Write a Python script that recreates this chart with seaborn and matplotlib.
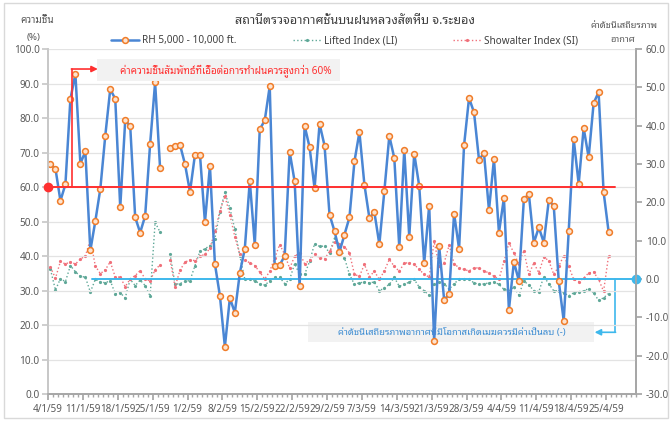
import numpy as np
import pandas as pd
import seaborn as sns
import matplotlib.pyplot as plt
from matplotlib import font_manager
from matplotlib.ft2font import FT2Font
from matplotlib.lines import Line2D
from matplotlib.patches import Rectangle
import matplotlib.patheffects as pe

nan = np.nan

# x labels (weekly), Thai Buddhist year 2559
day_labels = ["4/1/59", "11/1/59", "18/1/59", "25/1/59", "1/2/59", "8/2/59",
              "15/2/59", "22/2/59", "29/2/59", "7/3/59", "14/3/59", "21/3/59",
              "28/3/59", "4/4/59", "11/4/59", "18/4/59", "25/4/59"]

# RH 5,000 - 10,000 ft (%), daily from 4/1/59
rh = [66.6, 65.3, 56.0, 60.8, 85.5, 92.8, 66.8, 70.3, 41.6, 50.1,
      59.4, 74.9, 88.4, 85.5, 54.1, 79.3, 77.7, 51.2, 46.8, 51.6,
      72.5, 90.3, 65.4, nan, 71.4, 72.0, 72.2, 66.6, 58.6, 69.4,
      69.4, 49.8, 66.1, 37.7, 28.5, 13.7, 27.8, 23.6, 35.1, 42.1,
      61.8, 43.3, 76.7, 79.3, 89.2, 37.0, 37.4, 40.0, 70.2, 61.6,
      31.2, 77.8, 71.5, 59.6, 78.3, 72.0, 52.0, 47.2, 41.2, 46.2,
      51.2, 67.4, 75.9, 60.7, 51.0, 52.7, 43.4, 58.8, 74.8, 68.4,
      42.5, 70.8, 45.6, 69.7, 60.3, 38.0, 54.6, 15.5, 42.9, 27.3,
      28.9, 52.3, 42.1, 72.1, 85.8, 81.6, 67.9, 69.8, 53.3, 68.1,
      46.8, 56.8, 24.4, 38.3, 32.8, 56.4, 58.0, 43.8, 48.3, 43.9,
      56.1, 54.5, 32.7, 21.2, 47.2, 73.9, 60.9, 77.1, 68.6, 84.3,
      87.5, 58.6, 47.1]

# Lifted Index
li = [2.5, -2.9, 0.1, -0.7, 3.5, 1.9, 0.7, 0.5, -3.4, -0.1,
      -0.7, -1.0, -0.4, -3.9, -3.6, -4.9, -0.1, -1.7, -0.3, -1.7,
      -4.5, 14.8, 12.2, nan, 6.6, -1.4, -1.2, -0.6, -0.4, 3.5,
      7.2, 7.9, 8.7, 10.5, 17.5, 22.6, 18.5, 13.0, 6.0, -0.1,
      -0.1, -0.5, -1.2, -1.6, -0.5, 0.4, 0.4, -1.2, -0.1, 4.0,
      1.2, 1.2, 4.6, 9.2, 8.5, 8.6, 6.8, 10.7, 9.0, 5.5,
      1.2, -1.4, -1.0, -0.8, -1.0, -0.8, -3.1, -2.3, -1.4, 0.4,
      -1.9, -1.4, -0.8, -0.1, -2.1, -3.1, -4.2, -1.4, -0.8, -1.2,
      -2.7, -1.2, -0.1, 0.1, -0.1, -1.0, -1.4, -1.3, -1.0, -0.8,
      -1.4, -2.7, -3.1, -2.1, -4.2, -0.5, -1.6, -3.0, -3.3, 0.6,
      -1.2, -3.1, -3.0, -3.6, -4.4, -3.6, -3.3, -3.1, -2.5, -3.6,
      -5.6, -4.9, -3.8]

# Showalter Index
si = [3.1, 0.2, 4.6, 3.9, 4.5, 3.9, 5.2, 6.0, 10.3, 3.4,
      1.4, 2.4, 4.5, 0.5, 0.5, -2.0, 0.0, 0.9, 2.2, 0.0,
      -0.5, 2.4, 3.7, nan, 5.0, -2.0, 2.3, 4.4, 5.0, 4.8,
      6.0, 6.4, 8.0, 12.5, 17.7, 21.6, 16.8, 11.0, 6.4, 5.0,
      4.2, 3.5, 1.8, 0.0, 2.0, 5.5, 9.0, 6.4, 2.8, 5.9,
      6.8, 4.0, 4.9, 6.4, 5.6, 5.2, 7.2, 9.6, 9.2, 8.4,
      6.8, 1.2, 0.7, 3.8, 0.6, 2.0, -0.1, 2.1, 5.1, 3.3,
      2.0, 4.2, 4.2, 3.8, 2.5, 1.2, 0.5, 9.8, 3.3, 4.2,
      8.8, 4.0, 2.9, 2.5, 2.1, 2.9, 2.9, 2.1, 1.6, 0.7,
      -0.1, 4.6, 9.4, 6.8, 3.8, 7.4, 1.2, 4.2, 1.6, 5.7,
      4.8, 1.2, 3.3, 6.1, 3.3, -0.1, -0.7, 0.2, 1.6, 1.8,
      -0.1, -3.2, 6.1]

df = pd.DataFrame({"day": np.arange(len(rh)), "RH": rh, "LI": li, "SI": si})
df["seg"] = df["RH"].isna().cumsum()
df = df.dropna()

sns.set_theme(style="white")

# pick an installed font that has Thai glyphs (looped ones first)
names = {f.name for f in font_manager.fontManager.ttflist}
thai = None
for cand in ["Tahoma", "Leelawadee UI", "Leelawadee", "Noto Sans Thai Looped",
             "Loma", "Garuda", "Waree", "Umpush", "Kinnari", "Norasi"]:
    if cand in names:
        thai = cand
        break
if thai is None:
    for f in font_manager.fontManager.ttflist:
        try:
            if 0x0E01 in FT2Font(f.fname).get_charmap():
                thai = f.name
                break
        except Exception:
            continue
plt.rcParams["font.family"] = [thai, "DejaVu Sans"] if thai else ["DejaVu Sans"]

BLUE = "#4A86D4"
ORANGE = "#F07C28"
GREEN = "#5FA898"
PINK = "#F0707A"
RED = "#FF3030"
CYAN = "#3EB8EC"
GREY = "#595959"

fig = plt.figure(figsize=(6.72, 4.21), dpi=100)
ax = fig.add_axes([0.0714, 0.0641, 0.875, 0.8195])
ax2 = ax.twinx()

sns.lineplot(data=df, x="day", y="LI", units="seg", estimator=None, ax=ax2,
             color=GREEN, lw=1.0, linestyle=":", marker="o", ms=2.3,
             mec="none", legend=False)
sns.lineplot(data=df, x="day", y="SI", units="seg", estimator=None, ax=ax2,
             color=PINK, lw=1.0, linestyle=":", marker="o", ms=2.3,
             mec="none", legend=False)
sns.lineplot(data=df, x="day", y="RH", units="seg", estimator=None, ax=ax,
             color=BLUE, lw=1.8, marker="o", ms=4.2, mfc="#FDE3CF",
             mec=ORANGE, mew=1.1, legend=False)

ax.set_zorder(ax2.get_zorder() + 1)
ax.patch.set_visible(False)

xmin, xmax = -0.5, 117.5
ax.set_xlim(xmin, xmax)
ax.set_ylim(0, 100)
ax2.set_ylim(-30, 60)
ax.set_yticks(np.arange(0, 101, 10))
ax.set_yticklabels([f"{v:.1f}" for v in np.arange(0, 101, 10)])
ax2.set_yticks(np.arange(-30, 61, 10))
ax2.set_yticklabels([f"{v:.1f}" for v in np.arange(-30, 61, 10)])
ax.set_xticks(np.arange(0, 113, 7) - 0.5)
ax.set_xticklabels(day_labels)
ax.set_xticks(np.arange(xmin, xmax + 0.1, 1), minor=True)
ax.set_xlabel("")
ax.set_ylabel("")
ax2.set_ylabel("")

ax.yaxis.grid(True, color="#E3E3E3", lw=0.9)
ax.set_axisbelow(True)
for a in (ax, ax2):
    a.spines["top"].set_visible(False)
    a.spines["left"].set_color("#C8C8C8")
    a.spines["right"].set_color("#A6A6A6")
    a.spines["bottom"].set_color("#A6A6A6")
ax.tick_params(axis="y", which="major", left=True, length=4, color="#C8C8C8",
               labelsize=7.2, labelcolor=GREY, pad=2)
ax2.tick_params(axis="y", which="major", right=True, length=4, color="#A6A6A6",
                labelsize=7.2, labelcolor=GREY, pad=3)
ax.tick_params(axis="x", which="major", bottom=True, length=4.5, color="#A6A6A6",
               labelsize=7.1, labelcolor=GREY, pad=3)
ax.tick_params(axis="x", which="minor", bottom=True, length=2.5, color="#A6A6A6")

# 60% reference line on the RH axis
ax.plot([xmin, 113.3], [60, 60], color=RED, lw=1.4, zorder=4,
        path_effects=[pe.withSimplePatchShadow(offset=(0, -2), shadow_rgbFace="#AAAAAA", alpha=0.4)])
ax.plot([xmin], [60], "o", color=RED, ms=6, clip_on=False, zorder=6)
ax.plot([4.3, 4.3], [60, 94.2], color=RED, lw=1.2, zorder=4)
ax.annotate("", xy=(9.5, 94.2), xytext=(4.2, 94.2),
            arrowprops=dict(arrowstyle="-|>", color=RED, lw=1.2,
                            shrinkA=0, shrinkB=0, mutation_scale=9), zorder=4)
ax.add_patch(Rectangle((9.4, 90.8), 48.7, 6.3, facecolor="#F2F2F2",
                       edgecolor="none", zorder=3))
ax.text(35.2, 93.8, "ค่าความชื้นสัมพัทธ์ที่เอื้อต่อการทำฝนควรสูงกว่า 60%",
        color=RED, fontsize=7.2, style="italic", ha="center", va="center", zorder=5)

# zero reference line on the stability axis
ax2.plot([8.3, xmax], [0, 0], color=CYAN, lw=1.4, zorder=4,
         path_effects=[pe.withSimplePatchShadow(offset=(0, -2), shadow_rgbFace="#AAAAAA", alpha=0.4)])
ax2.plot([xmax], [0], "o", color=CYAN, ms=6, clip_on=False, zorder=6)
ax2.plot([113.3, 113.3], [0, -13.9], color=CYAN, lw=1.2, zorder=4)
ax2.annotate("", xy=(109.2, -13.9), xytext=(113.4, -13.9),
             arrowprops=dict(arrowstyle="-|>", color=CYAN, lw=1.2,
                             shrinkA=0, shrinkB=0, mutation_scale=9), zorder=4)
ax2.add_patch(Rectangle((51.7, -16.5), 57.4, 5.2, facecolor="#F2F2F2",
                        edgecolor="none", zorder=3))
ax2.text(80.5, -13.9, "ค่าดัชนีเสถียรภาพอากาศที่มีโอกาสเกิดเมฆควรมีค่าเป็นลบ (-)",
         color="#3A8BD2", fontsize=6.8, style="italic", ha="center", va="center", zorder=5)

# titles
fig.text(0.528, 0.952, "สถานีตรวจอากาศชั้นบนฝนหลวงสัตหีบ จ.ระยอง",
         ha="center", va="center", fontsize=9, fontweight="bold", color="#404040")
fig.text(0.055, 0.952, "ความชื้น", ha="center", va="center", fontsize=7.2, color=GREY)
fig.text(0.05, 0.912, "(%)", ha="center", va="center", fontsize=7, color=GREY)
fig.text(0.929, 0.94, "ค่าดัชนีเสถียรภาพ", ha="center", va="center", fontsize=6.7, color=GREY)
fig.text(0.926, 0.905, "อากาศ", ha="center", va="center", fontsize=6.7, color=GREY)

handles = [
    Line2D([], [], color=BLUE, lw=1.8, marker="o", ms=4.2, mfc="#FDE3CF", mec=ORANGE, mew=1.1),
    Line2D([], [], color=GREEN, lw=1, linestyle=":", marker="o", ms=2.3, mec="none"),
    Line2D([], [], color=PINK, lw=1, linestyle=":", marker="o", ms=2.3, mec="none"),
]
labels = ["RH 5,000 - 10,000 ft.", "Lifted Index (LI)", "Showalter Index (SI)"]
fig.legend(handles, labels, loc="center", bbox_to_anchor=(0.513, 0.903), ncol=3,
           frameon=False, fontsize=7.2, handlelength=2.8, columnspacing=5.6,
           handletextpad=0.3, labelcolor="#404040")

fig.patches.append(Rectangle((0.006, 0.006), 0.988, 0.988, transform=fig.transFigure,
                             fill=False, edgecolor="#D9D9D9", lw=1))

fig.savefig("out.png", dpi=100)
